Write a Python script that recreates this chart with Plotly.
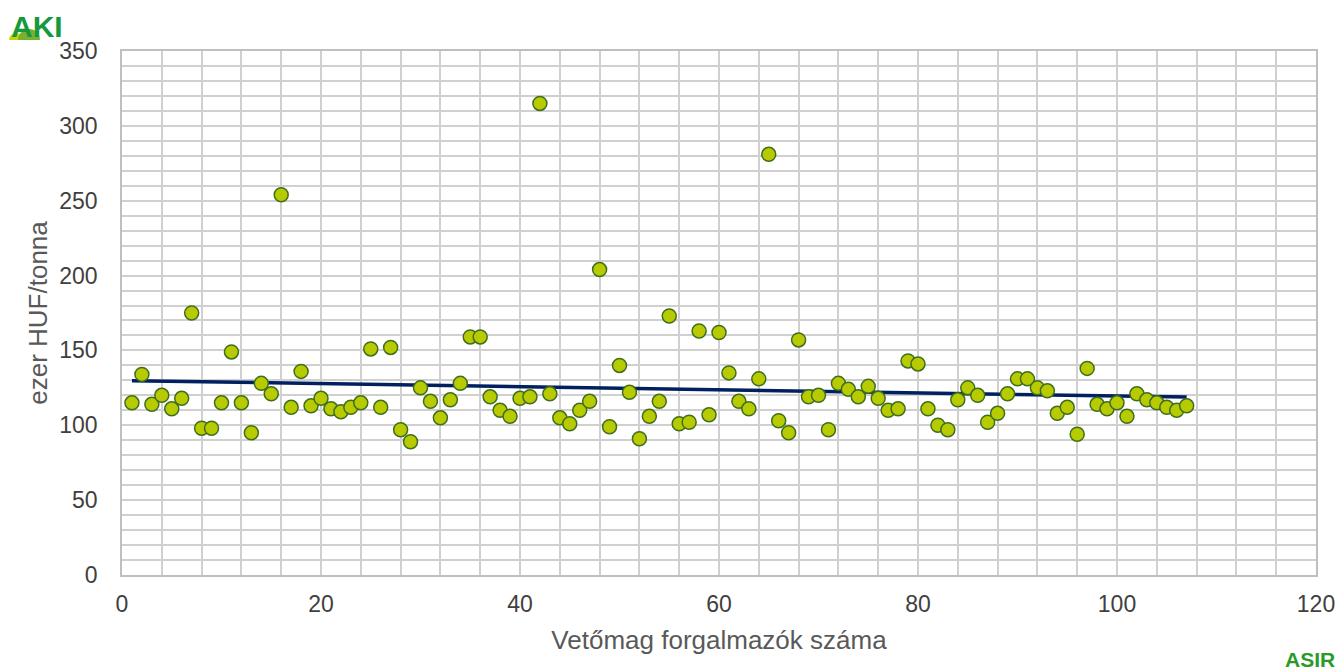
import numpy as np
import plotly.graph_objects as go

# ár (ezer HUF/tonna) forgalmazónként, 1..107
forgalmazo = list(range(1, 108))
ar = [
    115, 134, 114, 120, 111, 118, 175, 98, 98, 115,
    149, 115, 95, 128, 121, 254, 112, 136, 113, 118,
    111, 109, 112, 115, 151, 112, 152, 97, 89, 125,
    116, 105, 117, 128, 159, 159, 119, 110, 106, 118,
    119, 315, 121, 105, 101, 110, 116, 204, 99, 140,
    122, 91, 106, 116, 173, 101, 102, 163, 107, 162,
    135, 116, 111, 131, 281, 103, 95, 157, 119, 120,
    97, 128, 124, 119, 126, 118, 110, 111, 143, 141,
    111, 100, 97, 117, 125, 120, 102, 108, 121, 131,
    131, 125, 123, 108, 112, 94, 138, 114, 111, 115,
    106, 121, 117, 115, 112, 110, 113,
]

GRID = "#d0d0d0"
TICK_COL = "#404040"
TITLE_COL = "#595959"
FONT = "Liberation Sans, Arial, sans-serif"

# lineáris trendvonal
coef = np.polyfit(forgalmazo, ar, 1)
trend_x = [forgalmazo[0], forgalmazo[-1]]
trend_y = list(np.polyval(coef, trend_x))

fig = go.Figure()
fig.add_trace(go.Scatter(
    x=trend_x, y=trend_y, mode="lines",
    line=dict(color="#002060", width=3.5),
    hoverinfo="skip", showlegend=False,
))
fig.add_trace(go.Scatter(
    x=forgalmazo, y=ar, mode="markers",
    marker=dict(size=14, color="#b7cb00", line=dict(color="#3f6e1f", width=1.5)),
    showlegend=False,
))

fig.update_xaxes(
    range=[0, 120], dtick=20, tick0=0, automargin=False,
    showgrid=True, gridcolor=GRID, gridwidth=1.5,
    minor=dict(dtick=4, showgrid=True, gridcolor=GRID, gridwidth=1.5),
    showline=True, linecolor="#bfbfbf", linewidth=1.5, mirror=True,
    zeroline=False, ticks="", ticklabelstandoff=8,
    tickfont=dict(size=23, color=TICK_COL, family=FONT),
    title=dict(text="Vetőmag forgalmazók száma", standoff=14,
               font=dict(size=26, color=TITLE_COL, family=FONT)),
)
fig.update_yaxes(
    range=[0, 350], dtick=50, tick0=0, automargin=False,
    showgrid=True, gridcolor=GRID, gridwidth=1.5,
    minor=dict(dtick=10, showgrid=True, gridcolor=GRID, gridwidth=1.5),
    showline=True, linecolor="#bfbfbf", linewidth=1.5, mirror=True,
    zeroline=False, ticks="", ticklabelstandoff=18,
    tickfont=dict(size=23, color=TICK_COL, family=FONT),
    title=dict(text="ezer HUF/tonna", standoff=4,
               font=dict(size=26, color=TITLE_COL, family=FONT)),
)

# AKI logó bal fent: két félkör + felirat
fig.add_shape(type="circle", xref="paper", yref="paper",
              x0=-0.0946, x1=-0.0829, y0=1.0076, y1=1.0344,
              fillcolor="#c8d400", line_width=0, layer="above")
fig.add_shape(type="circle", xref="paper", yref="paper",
              x0=-0.0871, x1=-0.0687, y0=1.0, y1=1.042,
              fillcolor="#7ab030", line_width=0, layer="above")
fig.add_shape(type="rect", xref="paper", yref="paper",
              x0=-0.0955, x1=-0.0653, y0=0.9943, y1=1.021,
              fillcolor="white", line_width=0, layer="above")
fig.add_annotation(text="<b>AKI</b>", xref="paper", yref="paper",
                   x=-0.0716, y=1.0465, xanchor="center", yanchor="middle",
                   showarrow=False,
                   font=dict(size=30, color="#15993c", family=FONT))
# ASIR logó jobb lent
fig.add_annotation(text="<b>ASIR</b>", xref="paper", yref="paper",
                   x=1.0176, y=-0.161, xanchor="right", yanchor="middle",
                   showarrow=False,
                   font=dict(size=21, color="#2a9a2a", family=FONT))

fig.update_layout(
    width=1340, height=671,
    margin=dict(l=122, r=24, t=51, b=96),
    paper_bgcolor="white", plot_bgcolor="white",
    font=dict(family=FONT),
)

# az oldal alapértelmezett 8px-es body margóját levesszük
fig.write_html(
    "out.html",
    config={"displayModeBar": False},
    post_script="document.body.style.margin='0';document.body.style.overflow='hidden';",
)
